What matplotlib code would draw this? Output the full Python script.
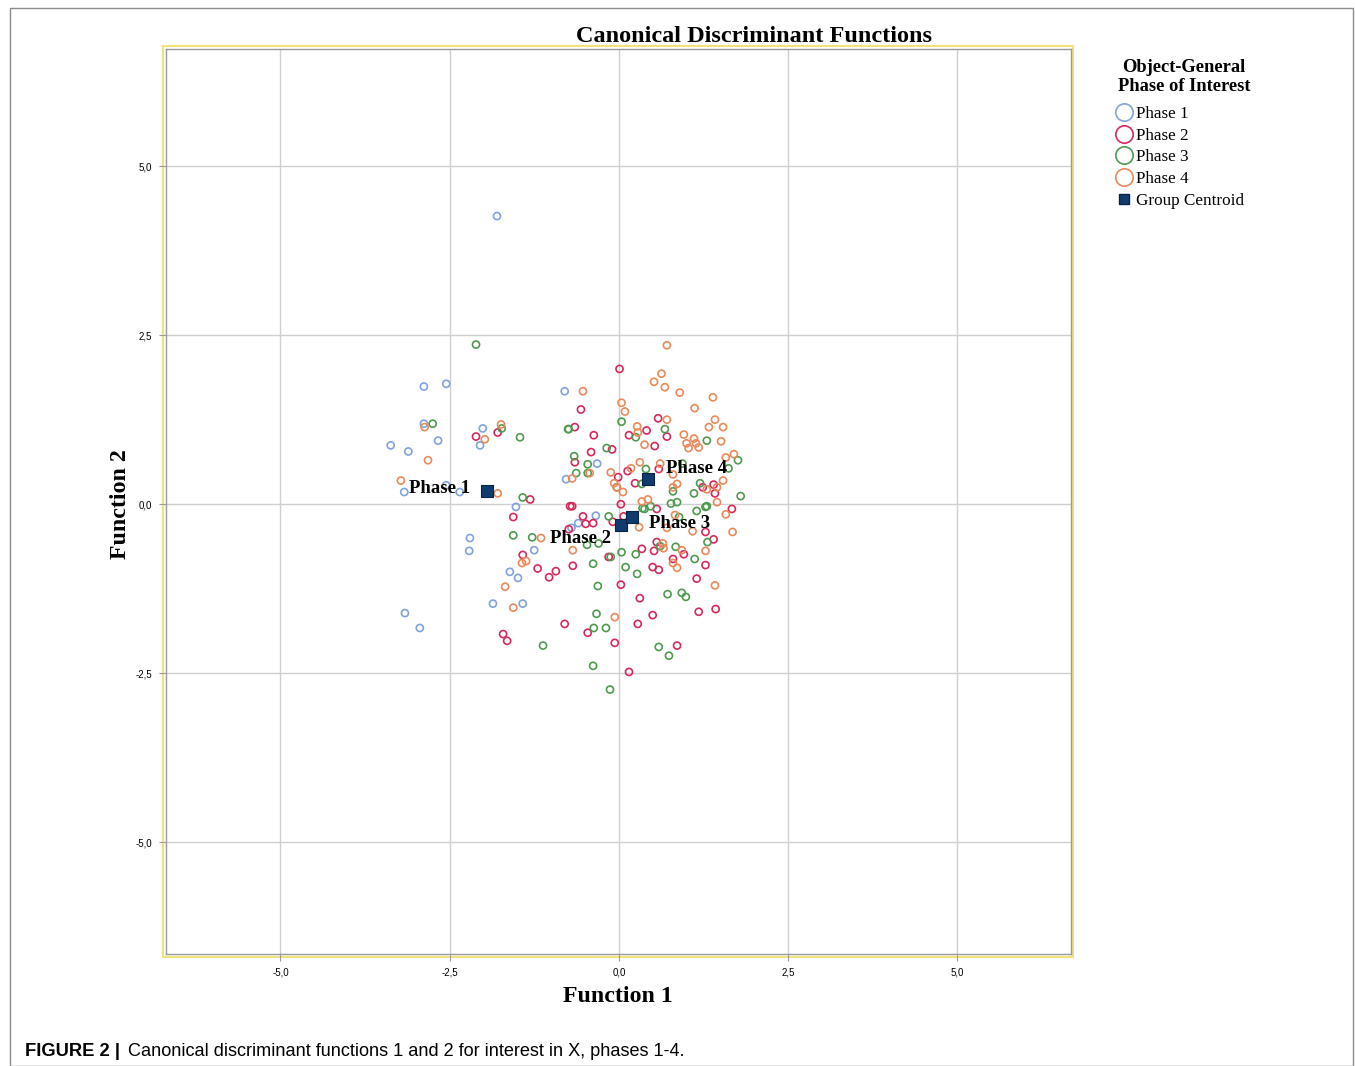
import matplotlib
matplotlib.use("Agg")
import matplotlib.pyplot as plt
from matplotlib.lines import Line2D
from matplotlib.patches import Rectangle

# ---------------- data ----------------
phase1_x = [-1.80, -3.37, -3.11, -2.88, -2.55, -2.88, -2.67, -2.01, -2.05, -2.55, -3.17, -2.35,
            -0.80, -0.78, -1.52, -2.20, -2.21, -1.25, -1.61, -1.49, -1.86, -1.42, -3.16, -2.94,
            -0.32, -0.34, -0.60, -0.70]
phase1_y = [4.26, 0.87, 0.78, 1.74, 1.78, 1.19, 0.94, 1.12, 0.87, 0.28, 0.18, 0.18,
            1.67, 0.37, -0.04, -0.50, -0.69, -0.68, -1.00, -1.09, -1.47, -1.47, -1.61, -1.83,
            0.60, -0.17, -0.28, -0.35]

phase2_x = [-2.11, -1.79, -1.31, -0.72, -1.56, -1.42, -1.20, -1.03, -0.93, -0.80, -1.71, -1.65,
            -0.74, 0.01, -0.56, -0.65, -0.37, -0.41, -0.65, -0.10, 0.15, 0.41, 0.58, 0.71,
            0.53, 0.13, 0.59, -0.01, 0.24, -0.69, 0.03, 1.40, 1.42, 1.67, 1.24, -0.53,
            -0.38, -0.49, -0.09, 0.07, 0.56, 1.28, 1.40, 0.56, 0.52, 0.34, -0.15, -0.68,
            0.50, 0.59, 0.80, 0.96, 1.28, 1.15, 0.03, 0.31, 0.50, 1.18, 1.43, -0.46,
            0.28, -0.06, 0.86, 0.15]
phase2_y = [1.00, 1.06, 0.07, -0.03, -0.19, -0.75, -0.95, -1.08, -0.99, -1.77, -1.92, -2.02,
            -0.37, 2.00, 1.40, 1.14, 1.02, 0.77, 0.62, 0.81, 1.02, 1.09, 1.27, 1.00,
            0.86, 0.49, 0.52, 0.40, 0.31, -0.03, 0.00, 0.29, 0.16, -0.07, 0.25, -0.18,
            -0.28, -0.29, -0.26, -0.18, -0.07, -0.41, -0.52, -0.56, -0.69, -0.66, -0.78, -0.91,
            -0.93, -0.97, -0.81, -0.74, -0.90, -1.10, -1.19, -1.39, -1.64, -1.59, -1.55, -1.90,
            -1.77, -2.05, -2.09, -2.48]

phase3_x = [-2.11, -2.75, -1.73, -1.46, -1.42, -0.75, -1.56, -1.28, -1.12, 0.04, -0.74, 0.25,
            0.68, -0.18, -0.66, -0.46, -0.46, -0.63, 0.40, 0.34, -0.03, 1.30, 1.76, 1.80,
            1.62, 1.20, 0.80, 1.11, 0.94, 1.30, 0.77, 0.86, 0.47, 0.35, -0.15, 0.38,
            0.89, 1.15, 1.28, -0.30, -0.47, 0.04, 0.25, 0.61, 0.84, 1.31, -0.38, -0.12,
            0.10, 0.27, 1.12, -0.31, 0.72, 0.93, 0.99, -0.33, -0.37, -0.19, 0.59, 0.74,
            -0.38, -0.13]
phase3_y = [2.36, 1.19, 1.12, 0.99, 0.10, 1.11, -0.46, -0.49, -2.09, 1.22, 1.11, 0.99,
            1.11, 0.83, 0.71, 0.59, 0.46, 0.46, 0.52, 0.30, 0.25, 0.94, 0.65, 0.12,
            0.53, 0.31, 0.19, 0.16, 0.60, -0.03, 0.01, 0.03, -0.03, -0.06, -0.18, -0.07,
            -0.19, -0.10, -0.04, -0.58, -0.60, -0.71, -0.74, -0.62, -0.63, -0.56, -0.88, -0.78,
            -0.93, -1.03, -0.81, -1.21, -1.33, -1.31, -1.37, -1.62, -1.83, -1.83, -2.11, -2.24,
            -2.39, -2.74]

phase4_x = [-2.87, -2.82, -3.22, -1.74, -1.98, -1.79, -1.15, -1.43, -1.37, -1.68, -1.56,
            0.71, -0.53, 0.63, 0.52, 0.68, 0.90, 1.39, 0.04, 0.09, 1.12, 0.71, 1.42,
            0.27, 0.28, 1.33, 1.54, 0.96, 1.11, 1.00, 1.14, 1.18, 1.03, 1.51, 0.38,
            1.58, 1.70, 0.31, 0.61, 0.18, -0.12, -0.43, -0.69, -0.07, -0.03, 0.06, 0.80,
            0.86, 0.80, 1.54, 1.45, 1.30, 0.34, 0.43, 1.45, 0.83, 0.71, 0.30, 1.09,
            1.58, 1.68, -0.68, 0.65, 0.66, 0.93, 1.28, 0.80, 0.86, 1.42, -0.06]
phase4_y = [1.14, 0.65, 0.35, 1.18, 0.96, 0.16, -0.50, -0.87, -0.84, -1.22, -1.53,
            2.35, 1.67, 1.93, 1.81, 1.73, 1.65, 1.58, 1.50, 1.37, 1.42, 1.25, 1.25,
            1.15, 1.06, 1.14, 1.14, 1.03, 0.97, 0.90, 0.90, 0.84, 0.83, 0.93, 0.88,
            0.69, 0.74, 0.62, 0.60, 0.53, 0.47, 0.46, 0.38, 0.31, 0.25, 0.18, 0.44,
            0.30, 0.25, 0.35, 0.25, 0.22, 0.04, 0.07, 0.03, -0.16, -0.35, -0.34, -0.40,
            -0.15, -0.41, -0.68, -0.58, -0.65, -0.68, -0.69, -0.87, -0.94, -1.20, -1.67]

centroid_labels = ["Phase 1", "Phase 2", "Phase 3", "Phase 4"]
centroid_x = [-1.95, 0.03, 0.19, 0.43]
centroid_y = [0.19, -0.31, -0.19, 0.38]

ticks = [-5.0, -2.5, 0.0, 2.5, 5.0]
tick_labels = ["-5,0", "-2,5", "0,0", "2,5", "5,0"]

legend_labels = ["Phase 1", "Phase 2", "Phase 3", "Phase 4", "Group Centroid"]

# ---------------- styling ----------------
colors = ["#7fa3dc", "#d8285c", "#4f9a4f", "#ea8a5a"]
serif = "Liberation Serif"
sans = "Liberation Sans"

W, H = 1355, 1066
fig = plt.figure(figsize=(W / 100, H / 100), dpi=100)
ax = fig.add_axes([166 / W, 1 - 954 / H, (1071 - 166) / W, (954 - 49) / H])

series = [(phase1_x, phase1_y), (phase2_x, phase2_y), (phase3_x, phase3_y), (phase4_x, phase4_y)]
for (xs, ys), c in zip(series, colors):
    ax.scatter(xs, ys, s=26, facecolors="none", edgecolors=c, linewidths=1.2, zorder=3)

ax.scatter(centroid_x, centroid_y, marker="s", s=75, facecolor="#0f3b6e",
           edgecolor="#0a2445", linewidths=0.8, zorder=5)

label_offsets = [(-0.25, 0.04, "right", "center"),
                 (-0.15, -0.19, "right", "center"),
                 (0.26, -0.10, "left", "center"),
                 (0.27, 0.15, "left", "center")]
for lab, cx, cy, (dx, dy, ha, va) in zip(centroid_labels, centroid_x, centroid_y, label_offsets):
    ax.text(cx + dx, cy + dy, lab, fontsize=13.5, fontweight="bold", family=serif,
            ha=ha, va=va, zorder=6)

ax.set_xlim(-6.69, 6.68)
ax.set_ylim(-6.65, 6.73)
ax.set_xticks(ticks)
ax.set_yticks(ticks)
ax.set_xticklabels(tick_labels, family=sans, fontsize=7)
ax.set_yticklabels(tick_labels, family=sans, fontsize=7)
ax.tick_params(length=5, width=0.8, color="#9a9a9a", pad=5)
ax.grid(True, color="#cfcfcf", linewidth=1.0, zorder=0)
ax.set_axisbelow(True)
for sp in ax.spines.values():
    sp.set_color("#9a9a9a")
    sp.set_linewidth(1.0)

# yellow frame around the plot area
fig.add_artist(Rectangle((163 / W, 1 - 957 / H), (1073 - 163) / W, (957 - 46) / H,
                         transform=fig.transFigure, fill=False, edgecolor="#f3e27a",
                         linewidth=1.5, zorder=0))
# outer border
fig.add_artist(Rectangle((10 / W, 0.0), (1353 - 10) / W, 1 - 8 / H,
                         transform=fig.transFigure, fill=False, edgecolor="#8c8c8c",
                         linewidth=1.0))

fig.text(754 / W, 1 - 36 / H, "Canonical Discriminant Functions", family=serif,
         fontsize=17.5, fontweight="bold", ha="center", va="center")
fig.text(618 / W, 1 - 996 / H, "Function 1", family=serif, fontsize=17.2,
         fontweight="bold", ha="center", va="center")
fig.text(121 / W, 1 - 504 / H, "Function 2", family=serif, fontsize=17.2,
         fontweight="bold", ha="center", va="center", rotation=90)

# legend title
fig.text(1184 / W, 1 - 67 / H, "Object-General", family=serif, fontsize=13.3,
         fontweight="bold", ha="center", va="center")
fig.text(1184 / W, 1 - 86 / H, "Phase of Interest", family=serif, fontsize=13.3,
         fontweight="bold", ha="center", va="center")

# legend entries
handles = [Line2D([], [], linestyle="none", marker="o", markersize=12.5,
                  markerfacecolor="none", markeredgecolor=c, markeredgewidth=1.2)
           for c in colors]
handles.append(Line2D([], [], linestyle="none", marker="s", markersize=7,
                      markerfacecolor="#0f3b6e", markeredgecolor="#0a2445"))
leg = fig.legend(handles, legend_labels,
                 loc="upper left", bbox_to_anchor=(1104 / W, 1 - 94 / H),
                 frameon=False, prop={"family": serif, "size": 12.3},
                 handlelength=0.9, handletextpad=0.25, labelspacing=0.33,
                 borderpad=0.2)

# caption
fig.text(25 / W, 1 - 1052 / H, "FIGURE 2 |", family=sans, fontsize=13.2,
         fontweight="bold", ha="left", va="center")
fig.text(128 / W, 1 - 1052 / H,
         "Canonical discriminant functions 1 and 2 for interest in X, phases 1-4.",
         family=sans, fontsize=13.1, ha="left", va="center")

fig.savefig("out.png", dpi=100)
